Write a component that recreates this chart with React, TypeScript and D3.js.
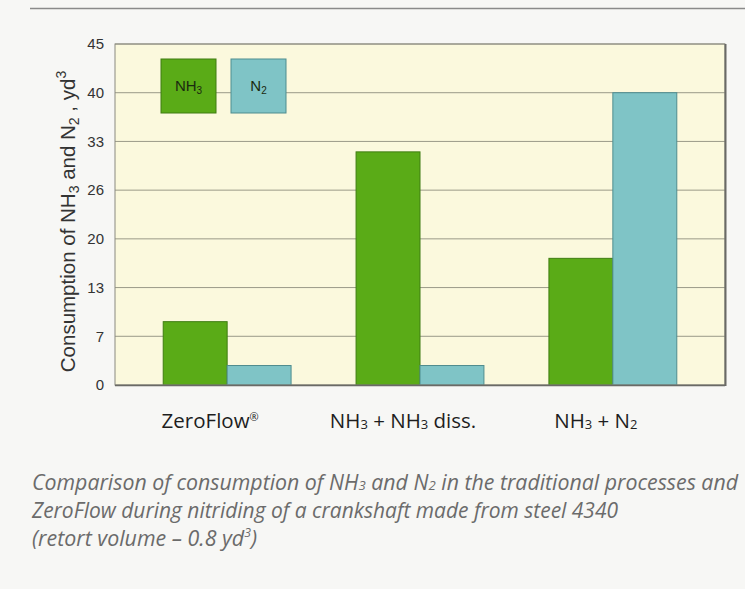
import React from "react";
import * as d3 from "d3";

const categories = ["ZeroFlow", "NH3 + NH3 diss.", "NH3 + N2"];
const seriesNames = ["NH3", "N2"];
const nh3Values = [8.8, 31.5, 17.2];
const n2Values = [2.8, 2.8, 40];
const tickLabels = [0, 7, 13, 20, 26, 33, 40, 45];

const W = 745;
const H = 589;
const plot = { left: 115, right: 725, top: 44, bottom: 385 };
const colors = { NH3: "#5aab17", N2: "#7fc4c6" };
const strokes = { NH3: "#3f7d12", N2: "#4f8d8f" };

export default function App() {
  const x0 = d3
    .scaleBand<string>()
    .domain(categories)
    .range([plot.left, plot.right])
    .paddingInner(0.337)
    .paddingOuter(0.25);
  const x1 = d3.scaleBand<string>().domain(seriesNames).range([0, x0.bandwidth()]).padding(0);
  const step = (plot.bottom - plot.top) / (tickLabels.length - 1);
  const y = d3
    .scaleLinear()
    .domain(tickLabels)
    .range(tickLabels.map((_, i) => plot.bottom - i * step));

  const rows = categories.map((c, i) => ({ cat: c, NH3: nh3Values[i], N2: n2Values[i] }));

  const sansAx = "'Liberation Sans', Arial, sans-serif";
  const humanist = "'Open Sans', 'Noto Sans', sans-serif";

  const catLabel = (c: string) => {
    if (c === "ZeroFlow")
      return (
        <>
          ZeroFlow
          <tspan fontSize="11" dy={-7}>®</tspan>
        </>
      );
    if (c === "NH3 + NH3 diss.")
      return (
        <>
          NH<tspan fontSize="13" dy={1}>3</tspan>
          <tspan dy={-1}> + NH</tspan>
          <tspan fontSize="13" dy={1}>3</tspan>
          <tspan dy={-1}> diss.</tspan>
        </>
      );
    return (
      <>
        NH<tspan fontSize="13" dy={1}>3</tspan>
        <tspan dy={-1}> + N</tspan>
        <tspan fontSize="13" dy={1}>2</tspan>
      </>
    );
  };

  const legendX = [161, 231];
  const legendW = 55;

  return (
    <svg
      width={W}
      height={H}
      style={{ position: "absolute", left: 0, top: 0, display: "block" }}
    >
      <rect x={0} y={0} width={W} height={H} fill="#f7f7f5" />
      <line x1={30} x2={W} y1={8.5} y2={8.5} stroke="#8a8a8a" strokeWidth={1.5} />

      <rect
        x={plot.left}
        y={plot.top}
        width={plot.right - plot.left}
        height={plot.bottom - plot.top}
        fill="#fbf9dd"
      />
      {tickLabels.map((t) => (
        <line
          key={"g" + t}
          x1={plot.left}
          x2={plot.right}
          y1={y(t)}
          y2={y(t)}
          stroke="#9a9a88"
          strokeWidth={1}
        />
      ))}
      {tickLabels.map((t) => (
        <text
          key={"t" + t}
          x={104}
          y={y(t)}
          dy="0.35em"
          textAnchor="end"
          fontFamily={sansAx}
          fontSize={15}
          fill="#333"
        >
          {t}
        </text>
      ))}

      {rows.map((r) => (
        <g key={r.cat} transform={`translate(${x0(r.cat)},0)`}>
          {seriesNames.map((s) => {
            const v = (r as any)[s] as number;
            return (
              <rect
                key={s}
                x={x1(s)}
                y={y(v)}
                width={x1.bandwidth()}
                height={y(0) - y(v)}
                fill={(colors as any)[s]}
                stroke={(strokes as any)[s]}
                strokeWidth={1}
              />
            );
          })}
        </g>
      ))}

      <rect
        x={plot.left}
        y={plot.top}
        width={plot.right - plot.left}
        height={plot.bottom - plot.top}
        fill="none"
        stroke="#8a8a80"
        strokeWidth={1}
      />
      <line x1={plot.right + 0.5} x2={plot.right + 0.5} y1={plot.top} y2={plot.bottom + 1} stroke="#6a6a66" strokeWidth={2} />
      <line x1={plot.left} x2={plot.right} y1={plot.bottom + 0.5} y2={plot.bottom + 0.5} stroke="#6a6a66" strokeWidth={1.5} />

      {seriesNames.map((s, i) => (
        <g key={"l" + s}>
          <rect
            x={legendX[i]}
            y={59}
            width={legendW}
            height={54}
            fill={(colors as any)[s]}
            stroke={(strokes as any)[s]}
          />
          <text
            x={legendX[i] + legendW / 2}
            y={91}
            textAnchor="middle"
            fontFamily={sansAx}
            fontSize={15}
            fill="#1a2a10"
          >
            {s === "NH3" ? (
              <>
                NH<tspan fontSize="10" dy={3}>3</tspan>
              </>
            ) : (
              <>
                N<tspan fontSize="10" dy={3}>2</tspan>
              </>
            )}
          </text>
        </g>
      ))}

      <text
        transform={`translate(75,${(plot.top + plot.bottom) / 2 + 7}) rotate(-90)`}
        textAnchor="middle"
        fontFamily={sansAx}
        fontSize={20.5}
        fill="#333"
      >
        Consumption of NH<tspan fontSize="14" dy={4}>3</tspan>
        <tspan dy={-4}> and N</tspan>
        <tspan fontSize="14" dy={4}>2</tspan>
        <tspan dy={-4}> , yd</tspan>
        <tspan fontSize="14" dy={-9}>3</tspan>
      </text>

      {categories.map((c) => (
        <text
          key={"c" + c}
          x={(x0(c) as number) + x0.bandwidth() / 2 - 17}
          y={428}
          textAnchor="middle"
          fontFamily={humanist}
          fontSize={20.5}
          fill="#1e1e1e"
        >
          {catLabel(c)}
        </text>
      ))}

      <g fontFamily={humanist} fontStyle="italic" fontSize={21} fill="#6b6b6b">
        <text x={32} y={490} textLength={706} lengthAdjust="spacingAndGlyphs">
          Comparison of consumption of NH<tspan fontSize="13">3</tspan> and N
          <tspan fontSize="13">2</tspan> in the traditional processes and
        </text>
        <text x={32} y={518} textLength={586} lengthAdjust="spacingAndGlyphs">
          ZeroFlow during nitriding of a crankshaft made from steel 4340
        </text>
        <text x={32} y={546} textLength={225} lengthAdjust="spacingAndGlyphs">
          (retort volume – 0.8 yd<tspan fontSize="12" dy={-9}>3</tspan>
          <tspan dy={9}>)</tspan>
        </text>
      </g>
    </svg>
  );
}
